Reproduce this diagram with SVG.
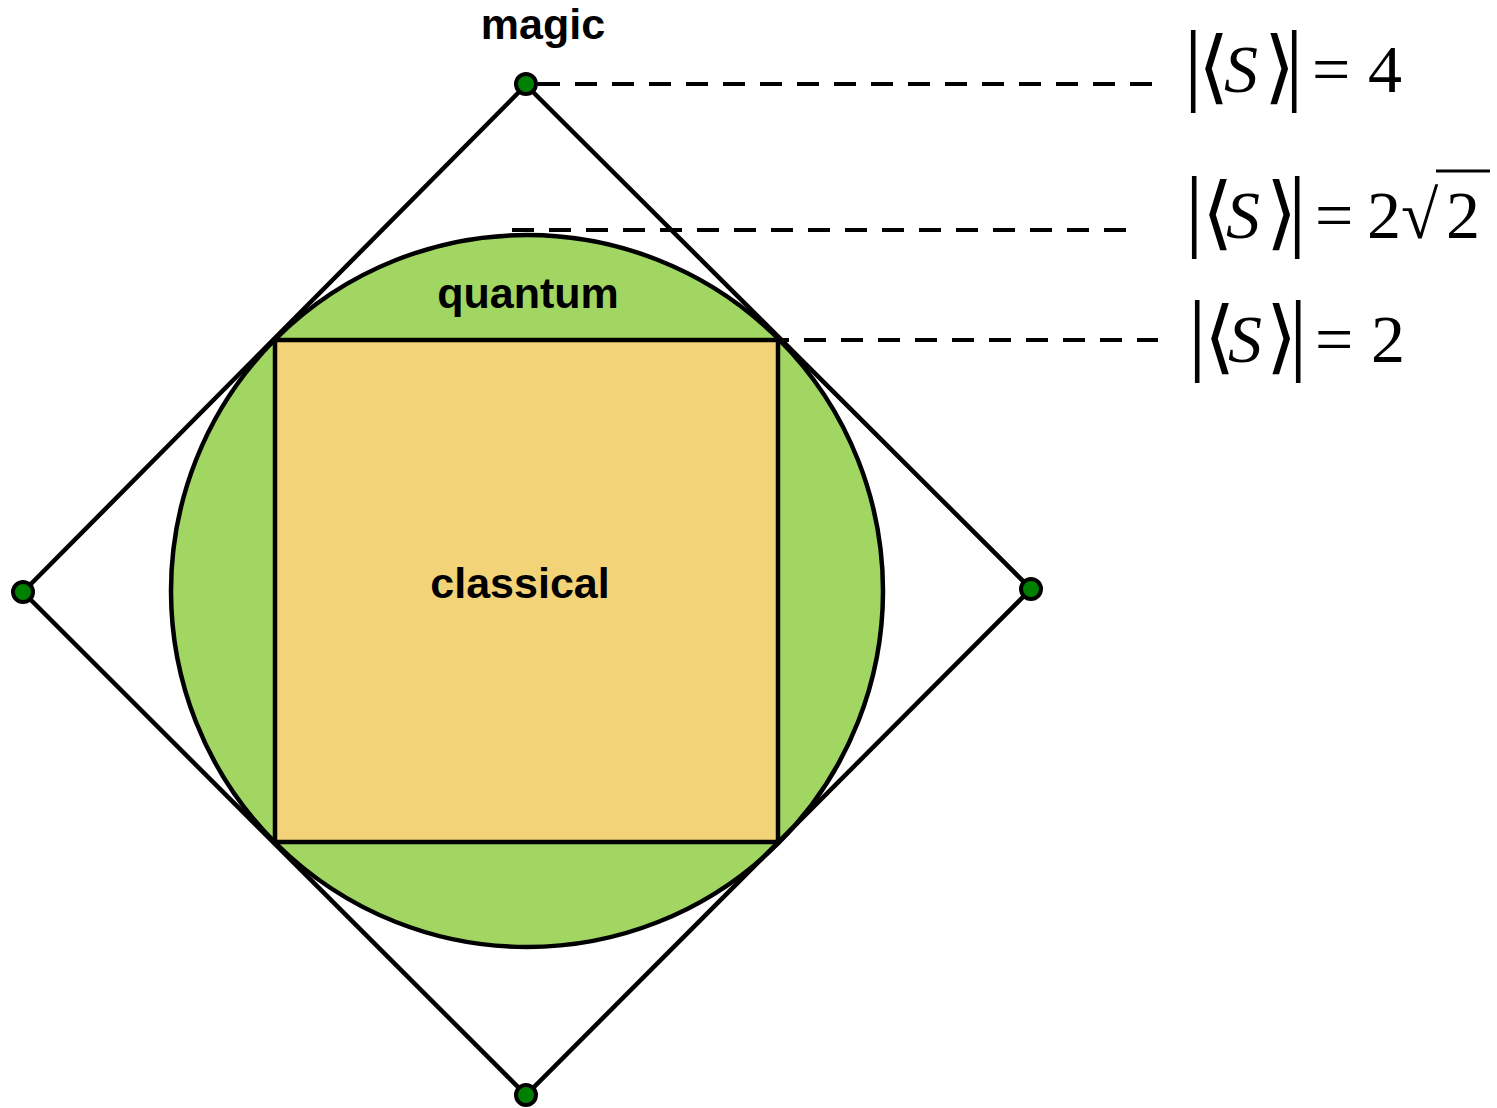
<svg xmlns="http://www.w3.org/2000/svg" width="1497" height="1108" viewBox="0 0 1497 1108">
<style>
.shape{stroke:#000;stroke-width:4.5;}
.dash{stroke:#000;stroke-width:4;stroke-dasharray:22 15;fill:none;}
.dot{fill:#008000;stroke:#000;stroke-width:4;}
.lbl{font-family:"Liberation Sans",Arial,sans-serif;font-weight:bold;font-size:43px;fill:#000;text-anchor:middle;}
.m{fill:#000;}
.big{font-size:92px;}
.br{font-size:80px;}
.it{font-style:italic;font-size:68px;}
.n{font-size:68px;}
</style>
<rect width="1497" height="1108" fill="#fff"/>
<g id="quantum">
<circle class="shape" cx="527" cy="591" r="356" fill="#A1D662"/>
</g>
<g id="classical">
<rect class="shape" x="275" y="340" width="503" height="502" fill="#F3D377"/>
</g>
<g id="magic">
<polygon class="shape" points="526,85 1031,589 526,1095 23,592" fill="none"/>
</g>
<g id="connectors">
<line class="dash" x1="538" y1="84" x2="1152" y2="84"/>
<line class="dash" x1="512" y1="230" x2="1126" y2="230"/>
<line class="dash" x1="545" y1="340" x2="1158" y2="340"/>
</g>
<g id="vertices">
<circle class="dot" cx="526" cy="84" r="10"/>
<circle class="dot" cx="1031" cy="589" r="10"/>
<circle class="dot" cx="526" cy="1095" r="10"/>
<circle class="dot" cx="23" cy="592" r="10"/>
</g>
<g id="labels">
<text class="lbl" x="543" y="39">magic</text>
<text class="lbl" x="528" y="308">quantum</text>
<text class="lbl" x="520" y="598">classical</text>
</g>
<g id="eq4">
<text class="m" font-family="'Liberation Serif', 'DejaVu Serif', serif" y="92"><tspan class="big" x="1184" y="94">|</tspan><tspan class="br" x="1198" y="94">⟨</tspan><tspan class="it" x="1224" y="92">S</tspan><tspan class="br" x="1264" y="94">⟩</tspan><tspan class="big" x="1285" y="94">|</tspan><tspan class="n" x="1312" y="92">=</tspan><tspan class="n" x="1368" y="92">4</tspan></text>
</g>
<g id="eq2r2">
<text class="m" font-family="'Liberation Serif', 'DejaVu Serif', serif" y="238"><tspan class="big" x="1185" y="240">|</tspan><tspan class="br" x="1202" y="240">⟨</tspan><tspan class="it" x="1226" y="238">S</tspan><tspan class="br" x="1266" y="240">⟩</tspan><tspan class="big" x="1288" y="240">|</tspan><tspan class="n" x="1315" y="238">=</tspan><tspan class="n" x="1367" y="238">2</tspan><tspan class="n" x="1401" y="238">√</tspan><tspan class="n" x="1446" y="238">2</tspan></text>
<line x1="1436" y1="171" x2="1490" y2="171" stroke="#000" stroke-width="3"/>
</g>
<g id="eq2">
<text class="m" font-family="'Liberation Serif', 'DejaVu Serif', serif" y="362"><tspan class="big" x="1188" y="364">|</tspan><tspan class="br" x="1204" y="364">⟨</tspan><tspan class="it" x="1228" y="362">S</tspan><tspan class="br" x="1266" y="364">⟩</tspan><tspan class="big" x="1289" y="364">|</tspan><tspan class="n" x="1315" y="362">=</tspan><tspan class="n" x="1371" y="362">2</tspan></text>
</g>
</svg>
